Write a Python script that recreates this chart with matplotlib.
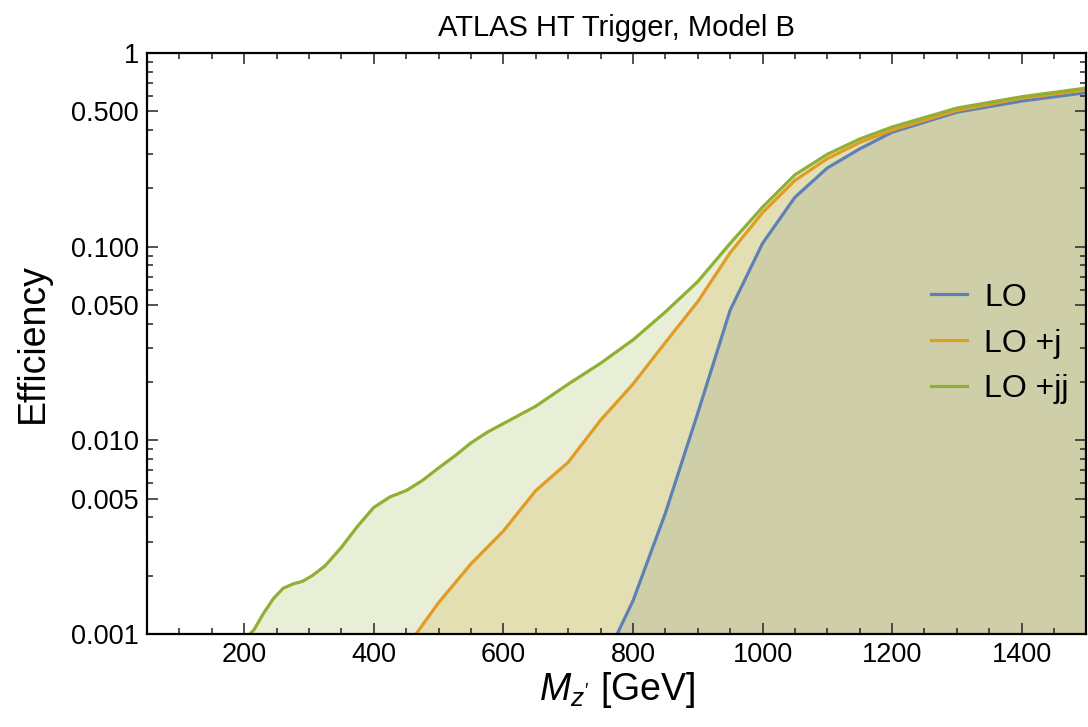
import numpy as np
import matplotlib
matplotlib.use("Agg")
import matplotlib.pyplot as plt
from matplotlib.ticker import FixedLocator, FixedFormatter, LogLocator, MultipleLocator, NullFormatter

plt.rcParams["font.family"] = ["Liberation Sans", "DejaVu Sans"]
plt.rcParams["mathtext.fontset"] = "custom"
plt.rcParams["mathtext.rm"] = "Liberation Sans"
plt.rcParams["mathtext.it"] = "Liberation Sans:italic"

# efficiency vs Z' mass
mass_lo = [750, 800, 850, 900, 950, 1000, 1050, 1100, 1150, 1200, 1300, 1400, 1500]
eff_lo = [0.00066, 0.00148, 0.0042, 0.0138, 0.047, 0.104, 0.18, 0.255, 0.32,
          0.39, 0.495, 0.565, 0.625]

mass_j = [450, 500, 550, 600, 650, 700, 750, 800, 850, 900, 950, 1000, 1050,
          1100, 1150, 1200, 1300, 1400, 1500]
eff_j = [0.00085, 0.00145, 0.0023, 0.0034, 0.0055, 0.0077, 0.0127, 0.0195,
         0.032, 0.052, 0.093, 0.150, 0.220, 0.285, 0.345, 0.400, 0.505, 0.585, 0.645]

mass_jj = [200, 215, 230, 245, 260, 275, 290, 305, 325, 350, 375, 400, 425,
           450, 475, 500, 525, 550, 575, 600, 650, 700, 750, 800, 850, 900,
           950, 1000, 1050, 1100, 1150, 1200, 1300, 1400, 1500]
eff_jj = [0.00093, 0.00105, 0.00128, 0.00152, 0.00172, 0.00181, 0.00187,
          0.002, 0.00225, 0.0028, 0.0036, 0.0045, 0.0051, 0.0055, 0.0062,
          0.0072, 0.0083, 0.0097, 0.011, 0.0122, 0.015, 0.0195, 0.025, 0.033,
          0.046, 0.066, 0.104, 0.160, 0.235, 0.300, 0.360, 0.415, 0.52, 0.595, 0.66]

series = [
    ("LO", mass_lo, eff_lo, "#5E81B5"),
    ("LO +j", mass_j, eff_j, "#E19C24"),
    ("LO +jj", mass_jj, eff_jj, "#8FB032"),
]

y_major = [0.001, 0.005, 0.01, 0.05, 0.1, 0.5, 1]
y_labels = ["0.001", "0.005", "0.010", "0.050", "0.100", "0.500", "1"]

fig = plt.figure(figsize=(10.88, 7.27), dpi=100)
ax = fig.add_axes([0.1351, 0.128, 0.8635, 0.799])

for name, x, y, c in series:
    ax.fill_between(x, y, 1e-5, color=c, alpha=0.2, lw=0, zorder=1)
for name, x, y, c in series:
    ax.plot(x, y, color=c, lw=2.3, label=name, zorder=2)

ax.set_yscale("log")
ax.set_xlim(50, 1500)
ax.set_ylim(0.001, 1)

ax.yaxis.set_major_locator(FixedLocator(y_major))
ax.yaxis.set_major_formatter(FixedFormatter(y_labels))
ax.yaxis.set_minor_locator(LogLocator(base=10, subs=np.arange(2, 10)))
ax.yaxis.set_minor_formatter(NullFormatter())
ax.xaxis.set_major_locator(MultipleLocator(200))
ax.xaxis.set_minor_locator(MultipleLocator(50))

ax.tick_params(which="both", direction="in", top=True, right=True,
               labelsize=19.5, width=1.2, color="#333333")
ax.tick_params(which="major", length=8, pad=6)
ax.tick_params(which="minor", length=4.5)
for s in ax.spines.values():
    s.set_linewidth(1.6)

ax.set_title("ATLAS HT Trigger, Model B", fontsize=21, pad=12)
ax.set_ylabel("Efficiency", fontsize=27, labelpad=14)
ax.set_xlabel(r"$M_{z'}$ [GeV]", fontsize=27, labelpad=1)

ax.legend(loc="center left", bbox_to_anchor=(0.835, 0.50), frameon=False,
          fontsize=23, handlelength=1.1, handletextpad=0.55, labelspacing=0.5,
          borderpad=0, borderaxespad=0)

fig.savefig("out.png", dpi=100)
